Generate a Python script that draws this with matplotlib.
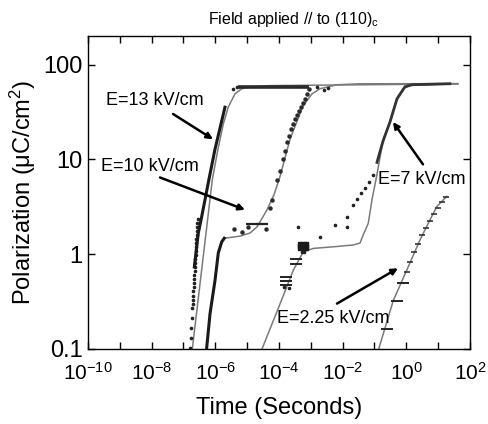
import numpy as np
import matplotlib as mpl
mpl.use('Agg')
import matplotlib.pyplot as plt

plt.rcParams['font.family'] = ['Liberation Sans', 'DejaVu Sans']
plt.rcParams['mathtext.fontset'] = 'custom'
plt.rcParams['mathtext.rm'] = 'Liberation Sans'
plt.rcParams['mathtext.it'] = 'Liberation Sans:italic'
plt.rcParams['mathtext.default'] = 'regular'

# ---- data (time in s, polarization in uC/cm^2) ----
# E = 13 kV/cm
t13_fit = [1.89e-7, 3.90e-7, 8.04e-7, 1.21e-6, 1.78e-6, 2.56e-6, 4.15e-6, 6.74e-6, 1.39e-5, 5.2e-5, 40]
p13_fit = [0.1, 0.78, 6.1, 12.8, 23.6, 35.7, 49.1, 55.6, 58.4, 60, 62.5]
t13_dots = [1.60e-7, 1.66e-7, 1.75e-7, 1.82e-7, 1.91e-7,
            1.94e-7, 1.97e-7, 2.01e-7, 2.04e-7, 2.08e-7, 2.12e-7, 2.15e-7, 2.19e-7,
            2.23e-7, 2.27e-7, 2.31e-7, 2.35e-7, 2.39e-7, 2.43e-7, 2.47e-7, 2.52e-7,
            2.56e-7, 2.60e-7, 2.65e-7, 2.70e-7, 2.74e-7, 2.79e-7,
            3.6e-6, 4.8e-6, 1.6e-3, 2.6e-3, 3.5e-3]
p13_dots = [0.103, 0.131, 0.167, 0.214, 0.273,
            0.301, 0.332, 0.366, 0.404, 0.446, 0.491, 0.542, 0.598,
            0.659, 0.727, 0.802, 0.885, 0.975, 1.08, 1.19, 1.31,
            1.44, 1.59, 1.76, 1.94, 2.14, 2.36,
            55.6, 58.4, 58.4, 54, 57]
t13_line = [2.19e-7, 2.92e-7, 3.73e-7, 4.74e-7, 6.02e-7, 9.77e-7, 2.01e-6]
p13_line = [0.733, 1.67, 2.49, 3.75, 5.69, 12.8, 35.5]
t13_sat = [5.0e-6, 9.0e-4]
p13_sat = [58, 58]

# E = 10 kV/cm
t10_line = [5.36e-7, 6.81e-7, 9.77e-7, 1.24e-6, 1.59e-6, 1.91e-6]
p10_line = [0.103, 0.235, 0.528, 1.03, 1.35, 1.47]
t10_fit = [1.91e-6, 5.96e-6, 1.23e-5, 2.04e-5, 3.15e-5, 4.21e-5, 6.98e-5, 1.08e-4,
           2.22e-4, 5.68e-4, 1.09e-3, 1.94e-3, 6.65e-3, 3.5e-2, 40]
p10_fit = [1.47, 1.55, 1.67, 1.94, 2.48, 2.94, 4.24, 6.6, 16.3, 36.6, 49.1, 55.6,
           61.3, 62.7, 63]
t10_dots = [3.86e-6, 6.89e-6, 1.06e-5, 3.91e-5, 5.22e-5, 6.04e-5, 8.67e-5, 1.08e-4,
            1.34e-4, 1.55e-4, 1.79e-4, 2.07e-4, 2.39e-4, 2.76e-4, 3.19e-4, 3.68e-4,
            4.25e-4, 4.92e-4, 5.69e-4, 6.57e-4, 7.59e-4, 8.77e-4]
p10_dots = [1.85, 1.71, 1.94, 1.85, 3.08, 3.75, 6.12, 7.45,
            10.0, 12.2, 15.2, 17.6, 20.9, 23.6, 26.7, 29.4,
            32.4, 35.8, 39.4, 43.5, 49.1, 55.6]
t10_bars = [1.42e-5, 2.93e-5]
p10_bars = [2.08, 2.08]

# E = 7 kV/cm
t7_fit = [2.93e-5, 1.08e-4, 2.82e-4, 5.81e-4, 1.20e-3, 5.75e-3, 2.16e-2, 3.51e-2,
          4.69e-2, 6.40e-2, 8.36e-2, 0.117, 0.189, 0.307, 0.499, 0.805, 1.31, 43]
p7_fit = [0.1, 0.299, 0.676, 1.06, 1.15, 1.20, 1.25, 1.31,
          1.67, 2.12, 3.75, 6.64, 16.3, 24.5, 43.5, 55.6, 60.3, 62.8]
t7_block = [4.57e-4, 5.69e-4, 7.06e-4, 4.57e-4, 5.69e-4, 7.06e-4, 4.57e-4, 5.69e-4, 7.06e-4]
p7_block = [1.28, 1.28, 1.28, 1.22, 1.22, 1.22, 1.16, 1.16, 1.16]
t7_bars = [1.66e-4, 1.66e-4, 1.66e-4, 3.43e-4, 3.43e-4]
p7_bars = [0.569, 0.516, 0.468, 0.885, 0.783]
t7_dots = [1.45e-4, 2.0e-4, 5.2e-4, 6.2e-4, 3.95e-4, 1.94e-3, 5.75e-3, 1.37e-2, 1.37e-2,
           2.12e-2, 2.82e-2, 3.77e-2, 5.04e-2, 6.73e-2, 8.99e-2]
p7_dots = [0.45, 0.44, 1.05, 1.05, 1.94, 1.52, 2.04, 1.94, 2.48,
           3.32, 3.85, 4.46, 5.04, 5.83, 6.92]
t7_line = [0.120, 0.185, 0.307, 0.511, 0.910, 1.51, 23.4]
p7_line = [9.29, 15.5, 24.8, 43.5, 58.4, 61.3, 62.8]

# E = 2.25 kV/cm
t2_fit = [0.136, 0.39, 1.03, 2.69, 5.56, 9.02, 18.6]
p2_fit = [0.1, 0.324, 0.676, 1.41, 2.30, 3.16, 4.07]
t2_bars = [0.248, 0.511, 0.787]
p2_bars = [0.163, 0.324, 0.491]
t2_dots = [1.05, 1.31, 1.75, 2.33, 3.11, 4.16, 5.56, 7.42, 9.91, 13.2, 17.7]
p2_dots = [0.644, 0.822, 1.05, 1.28, 1.59, 1.89, 2.24, 2.67, 3.08, 3.57, 4.04]

xtick_vals = [1e-10, 1e-9, 1e-8, 1e-7, 1e-6, 1e-5, 1e-4, 1e-3, 1e-2, 1e-1, 1e0, 1e1, 1e2]
xtick_labels = ['$10^{-10}$', '', '$10^{-8}$', '', '$10^{-6}$', '', '$10^{-4}$', '',
                '$10^{-2}$', '', '$10^{0}$', '', '$10^{2}$']
ytick_vals = [0.1, 1, 10, 100]
ytick_labels = ['0.1', '1', '10', '100']

fig = plt.figure(figsize=(4.89, 4.24), dpi=100)
ax = fig.add_axes([0.18, 0.177, 0.781, 0.738])

gray = '#7a7a7a'
ax.plot(t13_fit, p13_fit, color=gray, lw=1.1)
ax.plot(t10_fit, p10_fit, color=gray, lw=1.1)
ax.plot(t7_fit, p7_fit, color=gray, lw=1.1)
ax.plot(t2_fit, p2_fit, color=gray, lw=1.1)

ax.plot(t13_dots, p13_dots, ls='none', marker='o', ms=1.6, color='#222222')
ax.plot(t13_line, p13_line, color='#1a1a1a', lw=2.2)
ax.plot(t13_sat, p13_sat, color='#2a2a2a', lw=2.6, solid_capstyle='butt')

ax.plot(t10_line, p10_line, color='#1a1a1a', lw=2.2)
ax.plot(t10_dots, p10_dots, ls='none', marker='o', ms=2.2, color='#2a2a2a')
ax.plot(t10_bars, p10_bars, ls='none', marker='_', ms=8, mew=1.6, color='#222222')

ax.plot(t7_block, p7_block, ls='none', marker='s', ms=3.2, color='#1a1a1a')
ax.plot(t7_bars, p7_bars, ls='none', marker='_', ms=9, mew=1.4, color='#222222')
ax.plot(t7_dots, p7_dots, ls='none', marker='o', ms=1.6, color='#222222')
ax.plot(t7_line, p7_line, color='#333333', lw=2.0)

ax.plot(t2_bars, p2_bars, ls='none', marker='_', ms=9, mew=1.4, color='#222222')
ax.plot(t2_dots, p2_dots, ls='none', marker='_', ms=4, mew=1.2, color='#333333')

# annotations
arrow = dict(arrowstyle='-|>', color='black', lw=1.8, mutation_scale=9, shrinkA=0, shrinkB=0)
ax.text(1.27e-8, 41.4, 'E=13 kV/cm', fontsize=13, ha='center', va='center')
ax.annotate('', xy=(8.45e-7, 16.3), xytext=(4.7e-8, 30.1), arrowprops=arrow)
ax.text(8.87e-9, 8.44, 'E=10 kV/cm', fontsize=13, ha='center', va='center')
ax.annotate('', xy=(8.55e-6, 2.94), xytext=(1.83e-8, 6.44), arrowprops=arrow)
ax.text(3.11, 6.12, 'E=7 kV/cm', fontsize=13, ha='center', va='center')
ax.annotate('', xy=(0.382, 24.8), xytext=(3.35, 8.86), arrowprops=arrow)
ax.text(4.98e-3, 0.209, 'E=2.25 kV/cm', fontsize=13, ha='center', va='center')
ax.annotate('', xy=(0.548, 0.710), xytext=(6.65e-3, 0.301), arrowprops=arrow)

ax.set_xscale('log')
ax.set_yscale('log')
ax.set_xlim(1e-10, 1e2)
ax.set_ylim(0.1, 200)
ax.set_xticks(xtick_vals)
ax.set_xticklabels(xtick_labels)
ax.set_yticks(ytick_vals)
ax.set_yticklabels(ytick_labels)
ax.minorticks_off()
ax.tick_params(which='both', direction='in', top=True, right=True, length=5, width=1)
ax.tick_params(axis='y', labelsize=17, pad=4)
ax.tick_params(axis='x', labelsize=15, pad=9)
for s in ax.spines.values():
    s.set_linewidth(1.0)

ax.set_xlabel('Time (Seconds)', fontsize=17, labelpad=10)
ax.set_ylabel('Polarization ($\\mu$C/cm$^2$)', fontsize=17, labelpad=4)
fig.text(0.6, 0.955, 'Field applied // to (110)$_c$', fontsize=11.5, ha='center', va='center')

fig.savefig('out.png', dpi=100)
